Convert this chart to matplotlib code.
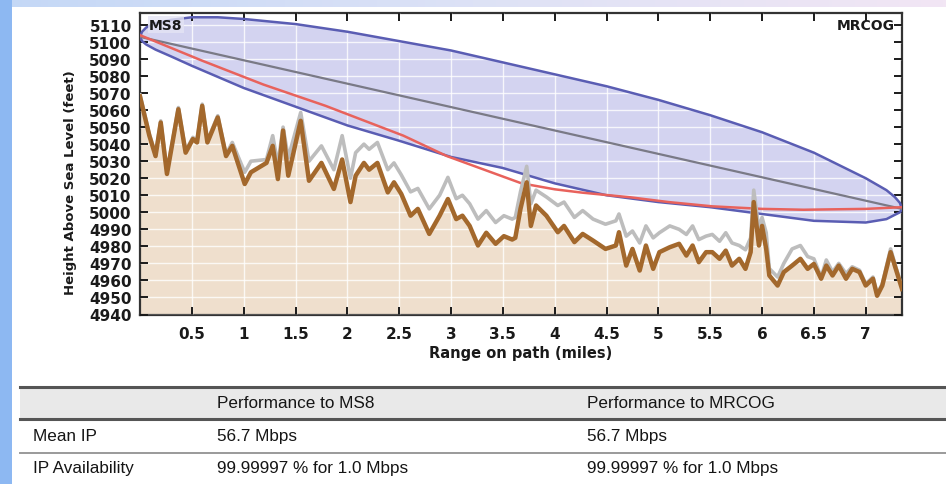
import numpy as np
import matplotlib
matplotlib.use("Agg")
import matplotlib.pyplot as plt
from matplotlib.patches import Rectangle

# ground profile (miles, feet)
ground_x = [0.00, 0.09, 0.15, 0.20, 0.26, 0.37, 0.44, 0.51, 0.55, 0.60, 0.65, 0.75, 0.83, 0.89,
            1.01, 1.07, 1.22, 1.28, 1.33, 1.38, 1.43, 1.55, 1.63, 1.75, 1.87, 1.95, 2.03, 2.08,
            2.16, 2.21, 2.29, 2.39, 2.45, 2.52, 2.61, 2.68, 2.79, 2.89, 2.97, 3.05, 3.11, 3.18,
            3.26, 3.34, 3.43, 3.51, 3.59, 3.62, 3.67, 3.73, 3.77, 3.82, 3.92, 4.03, 4.09, 4.19,
            4.27, 4.37, 4.49, 4.59, 4.62, 4.69, 4.75, 4.82, 4.88, 4.95, 5.01, 5.11, 5.20, 5.27,
            5.33, 5.39, 5.46, 5.52, 5.59, 5.65, 5.71, 5.78, 5.84, 5.89, 5.92, 5.97, 6.00, 6.04,
            6.07, 6.15, 6.21, 6.29, 6.37, 6.44, 6.50, 6.57, 6.62, 6.68, 6.74, 6.81, 6.87, 6.94,
            7.00, 7.07, 7.11, 7.16, 7.24, 7.29, 7.35]
ground_ft = [5068, 5045, 5033, 5052.7, 5022.5, 5060.5, 5035, 5043, 5041, 5062.5, 5041, 5055.7, 5033, 5039,
             5016.6, 5023.5, 5029, 5039, 5019.5, 5048, 5021.5, 5053.7, 5018.5, 5029, 5013.7, 5031, 5006, 5021.5,
             5029, 5025, 5029, 5011.7, 5017.6, 5010.8, 4998, 5002, 4987.3, 4998, 5007.8, 4996, 4998, 4992,
             4980.5, 4988, 4981.5, 4986, 4984, 4985, 5002, 5017.6, 4992, 5004, 4998, 4988.3, 4992, 4982.5,
             4987.3, 4983.4, 4978.5, 4980.5, 4988.3, 4968.7, 4978.5, 4965.8, 4980.5, 4966.8, 4976.6, 4979.5, 4981.5, 4974.6,
             4980.5, 4970.7, 4976.6, 4976.6, 4972.7, 4977.5, 4968.7, 4972.7, 4966.8, 4976.6, 5006, 4980.5, 4992, 4978.5,
             4962.9, 4957, 4964.9, 4968.7, 4972.7, 4966.8, 4969.7, 4961, 4968.7, 4962.9, 4968.7, 4961, 4966.8, 4964.9,
             4957, 4961, 4951, 4957, 4976.6, 4966.8, 4955]
# ground + clutter (same x positions)
clutter_ft = [5069, 5046, 5034, 5053.7, 5023.5, 5061.5, 5036, 5044, 5042, 5063.5, 5042, 5056.7, 5034, 5041,
              5023.5, 5030, 5031, 5045, 5028, 5050, 5032, 5058.6, 5030, 5039, 5025, 5045, 5020, 5035,
              5040, 5037, 5041, 5025, 5029, 5022, 5012, 5014, 5002, 5010, 5020.5, 5008, 5010, 5005,
              4996, 5001, 4994, 4998, 4996, 4997, 5012, 5027, 5005, 5013, 5009, 5004, 5006, 4997,
              5001, 4996, 4993, 4995, 4999, 4986, 4989, 4982, 4992, 4985, 4988, 4992, 4990, 4987,
              4992, 4984, 4986, 4987, 4983, 4988, 4982, 4980.5, 4978, 4985, 5013, 4990, 4997, 4988,
              4967, 4962, 4970, 4978.5, 4980.5, 4974, 4972.7, 4962, 4972, 4965, 4970, 4964, 4968, 4966,
              4958, 4962, 4952, 4958, 4978.5, 4968, 4956]

# direct line of sight between the two antennas
los_x = [0.0, 7.35]
los_ft = [5103, 5002]

# red line
red_x = [0.0, 0.6, 1.19, 1.79, 2.54, 2.96, 3.68, 4.0, 4.27, 4.73, 5.1, 5.52, 6.0, 6.4, 7.0, 7.35]
red_ft = [5104, 5089, 5075, 5062.5, 5045, 5033, 5017, 5013.5, 5011.5, 5008.8, 5006, 5003.5, 5002, 5001.5, 5002, 5003]

# fresnel zone outline
fres_up_x = [0.0, 0.02, 0.06, 0.15, 0.3, 0.5, 0.75, 1.0, 1.5, 2.0, 2.5, 3.0, 3.5, 4.0, 4.5, 5.0,
             5.5, 6.0, 6.5, 7.0, 7.2, 7.28, 7.33, 7.35]
fres_up_ft = [5103, 5106, 5108.5, 5111, 5113, 5114.5, 5114.5, 5113.5, 5110.5, 5106, 5100.5, 5095, 5088, 5081, 5074, 5066,
              5057, 5047, 5035, 5020, 5013, 5009, 5005.5, 5002]
fres_lo_x = [0.0, 0.02, 0.06, 0.15, 0.3, 0.5, 1.0, 1.5, 2.0, 2.5, 3.0, 3.5, 4.0, 4.5, 5.0, 5.5,
             6.0, 6.5, 7.0, 7.2, 7.28, 7.33, 7.35]
fres_lo_ft = [5103, 5100.5, 5098.5, 5095.5, 5091.5, 5086, 5073, 5062, 5051, 5042, 5032.5, 5026, 5017, 5010, 5006, 5003,
              4999, 4995, 4994, 4996, 4998.5, 5000, 5002]

x_ticks = [0.5, 1, 1.5, 2, 2.5, 3, 3.5, 4, 4.5, 5, 5.5, 6, 6.5, 7]
x_tick_labels = ['0.5', '1', '1.5', '2', '2.5', '3', '3.5', '4', '4.5', '5', '5.5', '6', '6.5', '7']
y_ticks = list(range(4940, 5111, 10))

table_header = ['', 'Performance to MS8', 'Performance to MRCOG']
table_rows = [['Mean IP', '56.7 Mbps', '56.7 Mbps'],
              ['IP Availability', '99.99997 % for 1.0 Mbps', '99.99997 % for 1.0 Mbps']]

W, H = 946, 485
fig = plt.figure(figsize=(W / 100, H / 100), dpi=100)
fig.patch.set_facecolor('white')

# slide background: blue strip at left, gradient band on top
bg = fig.add_axes([0, 0, 1, 1], zorder=-10)
bg.axis('off')
grad = np.linspace(0, 1, 256).reshape(1, -1)
cmap = matplotlib.colors.LinearSegmentedColormap.from_list('band', ['#c4d8f6', '#dde2f6', '#f2e6f4'])
bg.imshow(grad, extent=[0, W, 8, 0], aspect='auto', cmap=cmap)
bg.add_patch(Rectangle((0, 0), 12, H, color='#8db8f2', lw=0))
bg.set_xlim(0, W)
bg.set_ylim(H, 0)

# table
col_x = [33, 217, 587]
bg.add_patch(Rectangle((20, 388), W - 20, 32, color='#e9e9e9', lw=0))
bg.plot([20, W], [388, 388], color='#555555', lw=2.2)
bg.plot([20, W], [420, 420], color='#555555', lw=2.2)
bg.plot([20, W], [454, 454], color='#9a9a9a', lw=1.4)
for cx, txt in zip(col_x, table_header):
    bg.text(cx, 404, txt, fontsize=12.3, family='Liberation Sans', va='center', ha='left', color='#151515')
for ry, row in zip([437, 469], table_rows):
    for cx, txt in zip(col_x, row):
        bg.text(cx, ry, txt, fontsize=12.3, family='Liberation Sans', va='center', ha='left', color='#151515')

# profile chart
ax = fig.add_axes([140 / W, 1 - 315.5 / H, 762 / W, 301.5 / H])
ax.set_facecolor('white')
ax.set_xlim(0, 7.35)
ax.set_ylim(4940, 5117)

ax.fill_between(ground_x, 4940, ground_ft, color='#efdfcd', lw=0, zorder=1)
ax.fill_between(fres_up_x, np.interp(fres_up_x, fres_lo_x, fres_lo_ft), fres_up_ft,
                color='#d3d3f0', lw=0, zorder=1)
ax.grid(True, color='white', lw=1.0, alpha=0.8, zorder=2)
ax.set_axisbelow(False)

ax.plot(fres_up_x, fres_up_ft, color='#5a5db3', lw=1.8, zorder=3)
ax.plot(fres_lo_x, fres_lo_ft, color='#5a5db3', lw=1.8, zorder=3)
ax.plot(los_x, los_ft, color='#7a7a86', lw=1.6, zorder=3)
ax.plot(red_x, red_ft, color='#e8625c', lw=1.8, zorder=4)
ax.plot(ground_x, clutter_ft, color='#bdbdbd', lw=2.6, zorder=4)
ax.plot(ground_x, ground_ft, color='#a3682c', lw=3.2, zorder=5)

ax.set_xticks(x_ticks)
ax.set_xticklabels(x_tick_labels)
ax.set_yticks(y_ticks)
ax.tick_params(direction='in', length=6, width=1.4, top=True, right=True,
               labelsize=11, colors='#1a1a1a', pad=6)
ax.tick_params(axis='x', pad=8)
for s in ax.spines.values():
    s.set_color('#333333')
    s.set_linewidth(1.6)
for lbl in ax.get_xticklabels() + ax.get_yticklabels():
    lbl.set_fontweight('bold')

ax.set_xlabel('Range on path (miles)', fontsize=10.5, fontweight='bold', color='#1a1a1a', labelpad=3)
ax.set_ylabel('Height Above Sea Level (feet)', fontsize=9.5, fontweight='bold', color='#1a1a1a')
ax.yaxis.set_label_coords(-0.083, 0.44)

ax.text(0.012, 0.985, 'MS8', transform=ax.transAxes, fontsize=10, fontweight='bold', va='top', ha='left',
        color='#1a1a1a', zorder=6, bbox=dict(boxstyle='square,pad=0.1', fc='#e4e4f4', ec='none', alpha=0.8))
ax.text(0.99, 0.985, 'MRCOG', transform=ax.transAxes, fontsize=10, fontweight='bold', va='top', ha='right',
        color='#1a1a1a', zorder=6)

fig.savefig('out.png', dpi=100)
